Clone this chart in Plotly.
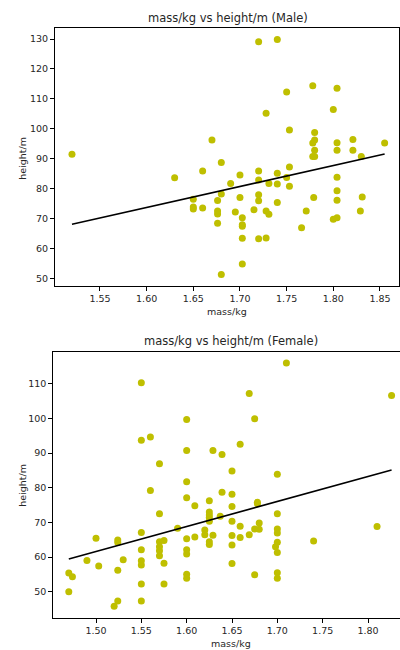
import numpy as np
import plotly.graph_objects as go

# ---- data ----
male_mass = [1.52, 1.67, 1.72, 1.74, 1.75, 1.728, 1.753, 1.778, 1.804, 1.80,
             1.78, 1.78, 1.778, 1.78, 1.804, 1.804, 1.821, 1.821, 1.855, 1.83,
             1.778, 1.78, 1.63, 1.66, 1.68, 1.65, 1.65, 1.65, 1.66, 1.676,
             1.68, 1.676, 1.676, 1.676, 1.68, 1.69, 1.695, 1.70, 1.70, 1.7025,
             1.7025, 1.7025, 1.7025, 1.7025, 1.715, 1.72, 1.72, 1.72, 1.72, 1.72,
             1.728, 1.728, 1.731, 1.731, 1.74, 1.74, 1.74, 1.75, 1.753, 1.753,
             1.766, 1.771, 1.779, 1.80, 1.804, 1.804, 1.804, 1.804, 1.829, 1.831]
male_height = [91.5, 96.2, 129.1, 129.8, 112.3, 105.2, 99.6, 114.4, 113.5, 106.4,
               98.7, 96.2, 95.2, 92.8, 95.3, 92.8, 96.4, 92.8, 95.2, 90.7,
               90.7, 90.7, 83.6, 85.9, 88.7, 76.4, 73.8, 73.2, 73.5, 76.0,
               78.2, 72.5, 71.5, 68.4, 51.3, 81.7, 72.2, 84.5, 77.0, 70.2,
               67.9, 67.4, 63.4, 54.8, 72.9, 85.9, 82.9, 77.9, 75.9, 63.2,
               72.5, 63.5, 81.7, 71.4, 85.1, 81.5, 75.3, 83.7, 87.2, 80.8,
               66.9, 72.5, 77.0, 69.7, 70.2, 83.8, 79.3, 76.1, 72.5, 77.2]

female_mass = [1.55, 1.71, 1.826, 1.669, 1.675, 1.60, 1.55, 1.56, 1.60, 1.629,
               1.639, 1.659, 1.57, 1.65, 1.70, 1.60, 1.56, 1.639, 1.65, 1.60,
               1.609, 1.625, 1.65, 1.678, 1.678, 1.57, 1.625, 1.625, 1.625, 1.625,
               1.637, 1.65, 1.70, 1.59, 1.62, 1.62, 1.609, 1.629, 1.625, 1.625,
               1.65, 1.65, 1.659, 1.659, 1.669, 1.675, 1.68, 1.68, 1.70, 1.70,
               1.70, 1.698, 1.70, 1.70, 1.70, 1.675, 1.65, 1.74, 1.81, 1.60,
               1.60, 1.60, 1.60, 1.60, 1.57, 1.57, 1.57, 1.57, 1.575, 1.575,
               1.575, 1.55, 1.55, 1.55, 1.55, 1.55, 1.55, 1.524, 1.524, 1.524,
               1.524, 1.52, 1.53, 1.50, 1.503, 1.49, 1.47, 1.474, 1.47]
female_height = [110.3, 116.0, 106.6, 107.2, 99.9, 99.7, 93.7, 94.6, 90.7, 90.7,
                 89.6, 92.5, 86.9, 84.8, 83.9, 81.7, 79.2, 78.7, 78.1, 77.1,
                 74.8, 76.2, 74.6, 75.8, 75.4, 72.5, 73.0, 72.1, 71.4, 70.3,
                 71.8, 70.3, 72.5, 68.3, 67.8, 66.4, 65.8, 66.3, 64.4, 63.6,
                 66.2, 63.5, 68.9, 65.6, 66.4, 68.1, 69.8, 68.0, 68.1, 66.9,
                 64.3, 63.0, 61.3, 55.5, 53.9, 54.9, 58.1, 64.6, 68.8, 65.3,
                 62.1, 60.9, 55.0, 53.9, 64.4, 63.0, 61.8, 60.4, 64.8, 58.2,
                 52.2, 67.1, 62.1, 58.9, 57.7, 52.2, 47.3, 64.9, 64.2, 56.2,
                 47.3, 45.8, 59.2, 65.4, 57.4, 59.0, 55.4, 54.3, 50.0]

male_xticks = [1.55, 1.60, 1.65, 1.70, 1.75, 1.80, 1.85]
male_yticks = [50, 60, 70, 80, 90, 100, 110, 120, 130]
female_xticks = [1.50, 1.55, 1.60, 1.65, 1.70, 1.75, 1.80]
female_yticks = [50, 60, 70, 80, 90, 100, 110]

titles = ["mass/kg vs height/m (Male)", "mass/kg vs height/m (Female)"]
xlabel = "mass/kg"
ylabel = "height/m"

# ---- styling ----
W, H = 400, 650
MARK = "#bfbf00"
FONT = "DejaVu Sans"
TXT = "#262626"


def fit_line(x, y):
    x = np.asarray(x, float)
    y = np.asarray(y, float)
    m, b = np.polyfit(x, y, 1)
    xs = np.array([x.min(), x.max()])
    return xs, m * xs + b


fig = go.Figure()

mx, my = fit_line(male_mass, male_height)
fx, fy = fit_line(female_mass, female_height)

fig.add_trace(go.Scatter(x=male_mass, y=male_height, mode="markers",
                         marker=dict(color=MARK, size=7), xaxis="x", yaxis="y",
                         showlegend=False))
fig.add_trace(go.Scatter(x=mx, y=my, mode="lines", line=dict(color="black", width=1.6),
                         xaxis="x", yaxis="y", showlegend=False))
fig.add_trace(go.Scatter(x=female_mass, y=female_height, mode="markers",
                         marker=dict(color=MARK, size=7), xaxis="x2", yaxis="y2",
                         showlegend=False))
fig.add_trace(go.Scatter(x=fx, y=fy, mode="lines", line=dict(color="black", width=1.6),
                         xaxis="x2", yaxis="y2", showlegend=False))


def px2paper_y(py):
    return 1 - py / H


axis_common = dict(showgrid=False, zeroline=False, showline=True, linecolor="black",
                   linewidth=1, ticks="outside", ticklen=4, tickwidth=1,
                   tickcolor="black", tickfont=dict(family=FONT, size=9.5, color=TXT))

# top axes: box x 55..399, y 27.7..286
fig.update_layout(
    xaxis=dict(domain=[55 / W, 399 / W], range=[1.5018, 1.8704], anchor="y",
               tickvals=male_xticks, ticktext=[f"{v:.2f}" for v in male_xticks],
               mirror=True, **axis_common),
    yaxis=dict(domain=[px2paper_y(286), px2paper_y(27.7)], range=[47.42, 133.78],
               anchor="x", tickvals=male_yticks, mirror=True, **axis_common),
    xaxis2=dict(domain=[53.3 / W, 1.0], range=[1.4529, 1.8353], anchor="y2",
                tickvals=female_xticks, ticktext=[f"{v:.2f}" for v in female_xticks],
                mirror=True, **axis_common),
    yaxis2=dict(domain=[px2paper_y(617.7), px2paper_y(351.7)], range=[42.5, 119.23],
                anchor="x2", tickvals=female_yticks, mirror=False, **axis_common),
)

ann = []
# titles
ann.append(dict(text=titles[0], x=227.5 / W, y=px2paper_y(18), xref="paper", yref="paper",
                showarrow=False, xanchor="center", yanchor="middle",
                font=dict(family=FONT, size=11.5, color=TXT)))
ann.append(dict(text=titles[1], x=230.8 / W, y=px2paper_y(341), xref="paper", yref="paper",
                showarrow=False, xanchor="center", yanchor="middle",
                font=dict(family=FONT, size=11.5, color=TXT)))
# x labels
ann.append(dict(text=xlabel, x=227 / W, y=px2paper_y(311), xref="paper", yref="paper",
                showarrow=False, xanchor="center", yanchor="middle",
                font=dict(family=FONT, size=9.5, color=TXT)))
ann.append(dict(text=xlabel, x=230.5 / W, y=px2paper_y(643), xref="paper", yref="paper",
                showarrow=False, xanchor="center", yanchor="middle",
                font=dict(family=FONT, size=9.5, color=TXT)))
# y labels
ann.append(dict(text=ylabel, x=21.7 / W, y=px2paper_y(158), xref="paper", yref="paper",
                showarrow=False, xanchor="center", yanchor="middle", textangle=-90,
                font=dict(family=FONT, size=9.5, color=TXT)))
ann.append(dict(text=ylabel, x=21.7 / W, y=px2paper_y(485), xref="paper", yref="paper",
                showarrow=False, xanchor="center", yanchor="middle", textangle=-90,
                font=dict(family=FONT, size=9.5, color=TXT)))

fig.update_layout(width=W, height=H, margin=dict(l=0, r=0, t=0, b=0),
                  paper_bgcolor="white", plot_bgcolor="white", annotations=ann,
                  showlegend=False, hovermode=False)

fig.write_html("out.html",
               config={"displayModeBar": False, "staticPlot": True},
               post_script="document.body.style.margin='0';"
                           "document.body.style.padding='0';"
                           "document.body.style.overflow='hidden';"
                           "document.documentElement.style.overflow='hidden';")
